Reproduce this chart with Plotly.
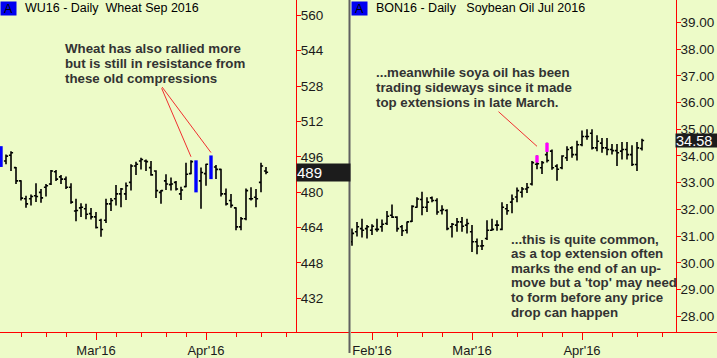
import plotly.graph_objects as go

W, H = 717, 358

# ---------------- Wheat Sep 2016 (WU16) daily bars, index 0 = 2 Feb 2016 ... 53 = 19 Apr 2016
wheat_open = [492.0, 494.1, 496.7, 491.1, 485.1, 477.0, 477.0, 478.4, 479.9, 482.2,
              483.7, 489.2, 486.9, 485.9, 482.2, 471.5, 472.9, 472.5, 470.3, 468.8,
              467.3, 467.3, 474.7, 477.0, 479.2, 479.2, 484.4, 491.8, 494.1, 494.1,
              491.1, 489.6, 479.9, 485.1, 483.4, 484.4, 479.2, 482.5, 488.4, 482.0,
              485.1, 488.4, 487.0, 491.4, 490.3, 479.2, 476.2, 472.9, 464.3, 468.0,
              477.0, 477.7, 484.4, 489.6]
wheat_high = [500.8, 497.0, 498.5, 491.4, 485.4, 478.4, 478.9, 484.0, 481.4, 483.7,
              490.0, 490.0, 487.8, 487.1, 484.0, 477.0, 475.0, 474.7, 472.8, 471.0,
              468.0, 477.0, 477.3, 483.2, 481.9, 484.4, 492.6, 493.8, 495.6, 494.8,
              494.1, 489.9, 481.0, 488.1, 486.6, 485.1, 482.5, 493.3, 494.4, 494.4,
              491.1, 492.9, 496.6, 492.3, 490.6, 481.7, 479.2, 473.2, 468.8, 481.7,
              482.2, 481.4, 493.3, 491.4]
wheat_low = [491.4, 492.6, 489.6, 483.7, 476.2, 472.9, 474.0, 475.5, 475.2, 478.0,
             483.2, 485.1, 483.7, 481.4, 474.7, 466.8, 468.8, 467.7, 467.6, 463.6,
             459.8, 466.1, 471.5, 474.0, 473.2, 476.5, 480.7, 487.8, 490.3, 489.6,
             487.4, 477.4, 474.7, 481.0, 480.7, 480.7, 476.5, 482.2, 488.1, 479.9,
             472.5, 482.9, 485.9, 485.9, 478.0, 474.0, 472.9, 462.8, 462.8, 467.3,
             476.2, 473.2, 480.0, 488.1]
wheat_close = [500.0, 496.3, 497.8, 485.1, 477.3, 474.7, 478.0, 478.0, 477.4, 482.9,
               489.6, 485.9, 485.9, 482.2, 475.5, 471.7, 473.2, 470.0, 468.8, 464.0,
               463.1, 474.7, 476.2, 479.2, 481.4, 482.9, 491.8, 492.6, 494.8, 493.8,
               487.8, 480.7, 480.7, 483.7, 483.7, 481.4, 481.0, 488.1, 493.8, 492.0,
               488.9, 492.6, 494.0, 490.3, 479.2, 474.7, 474.0, 464.3, 468.0, 480.7,
               477.0, 477.0, 491.8, 489.0]
wheat_blue_bars = [0, 39, 42]
wheat_major_ticks = [19, 41]
wheat_major_labels = ["Mar'16", "Apr'16"]
wheat_minor_ticks = [4, 9, 13, 23, 28, 33, 37, 47, 52, 57]
wheat_yticks = [432, 448, 464, 480, 496, 512, 528, 544, 560]

# ---------------- Soybean Oil Jul 2016 (BON16) daily bars, index 0 = 26 Jan 2016 ... 58 = 19 Apr 2016
soy_open = [30.79, 31.16, 31.28, 31.28, 31.22, 31.25, 31.35, 31.47, 31.78, 31.71,
            31.35, 31.22, 31.55, 32.08, 32.37, 32.08, 32.43, 32.33, 31.96, 31.96,
            31.35, 31.41, 31.53, 31.41, 31.16, 30.79, 30.63, 30.91, 31.22, 31.41,
            31.25, 32.02, 32.27, 32.46, 32.64, 32.76, 32.95, 33.69, 33.56, 34.05,
            34.18, 33.62, 33.56, 33.93, 34.30, 34.05, 34.42, 34.73, 34.85, 34.30,
            34.48, 34.30, 34.24, 34.20, 34.18, 34.24, 34.05, 33.68, 34.28]
soy_high = [31.28, 31.53, 31.65, 31.41, 31.44, 31.65, 31.62, 31.94, 32.18, 31.74,
            31.41, 31.55, 32.15, 32.45, 32.66, 32.45, 32.48, 32.42, 32.15, 32.00,
            31.49, 31.68, 31.71, 31.65, 31.41, 30.91, 30.85, 31.59, 31.65, 31.59,
            32.27, 32.20, 32.56, 32.82, 32.84, 32.99, 33.81, 34.02, 33.81, 34.49,
            34.24, 33.69, 34.03, 34.36, 34.36, 34.57, 34.95, 35.00, 35.00, 34.77,
            34.67, 34.67, 34.45, 34.45, 34.52, 34.52, 34.40, 34.52, 34.64]
soy_low = [30.64, 30.98, 30.95, 30.91, 31.04, 31.16, 31.16, 31.41, 31.68, 31.16,
           31.00, 31.10, 31.53, 32.06, 31.78, 31.90, 32.27, 31.80, 31.81, 31.22,
           30.95, 31.16, 31.16, 31.10, 30.40, 30.32, 30.48, 30.85, 31.20, 31.20,
           31.22, 31.80, 31.85, 32.27, 32.44, 32.61, 32.89, 33.50, 33.32, 33.75,
           33.48, 33.07, 33.50, 33.81, 33.93, 33.83, 34.36, 34.61, 34.24, 34.18,
           34.12, 34.03, 34.05, 33.62, 33.87, 33.87, 33.62, 33.44, 34.20]
soy_close = [31.10, 31.35, 31.22, 31.35, 31.37, 31.25, 31.44, 31.74, 31.71, 31.28,
             31.20, 31.53, 32.11, 32.39, 32.08, 32.27, 32.33, 31.90, 31.99, 31.28,
             31.44, 31.53, 31.37, 31.47, 30.79, 30.63, 30.64, 31.22, 31.25, 31.41,
             32.08, 31.95, 32.39, 32.70, 32.76, 32.82, 33.75, 33.71, 33.75, 33.83,
             33.56, 33.50, 34.00, 34.24, 34.05, 34.42, 34.73, 34.73, 34.30, 34.55,
             34.30, 34.24, 34.20, 34.12, 34.24, 34.05, 33.68, 34.30, 34.58]
soy_ext_bars = [37, 39]          # top-extension bars (magenta)
soy_ext_bottom = [33.75, 34.15]  # lower end of the magenta part
soy_major_ticks = [4, 24, 46]
soy_major_labels = ["Feb'16", "Mar'16", "Apr'16"]
soy_minor_ticks = [9, 14, 18, 28, 33, 38, 42, 52, 57, 62]
soy_yticks = [28, 29, 30, 31, 32, 33, 34, 35, 36, 37, 38, 39]

assert len(wheat_open) == len(wheat_high) == len(wheat_low) == len(wheat_close) == 54
assert len(soy_open) == len(soy_high) == len(soy_low) == len(soy_close) == 59

BG = "#EDFBC8"
RED = "#FF0000"
FONT = "Liberation Sans, Arial, sans-serif"
TXT = "#333333"


def px_x(p):
    return p / W


def px_y(p):
    return 1 - p / H


fig = go.Figure()


def add_bars(o, h, l, c, skip, xa, ya):
    idx = [i for i in range(len(o)) if i not in skip]
    bar_line = dict(color="black", width=1.6)
    fig.add_trace(go.Ohlc(
        x=idx, open=[o[i] for i in idx], high=[h[i] for i in idx],
        low=[l[i] for i in idx], close=[c[i] for i in idx],
        increasing=dict(line=bar_line), decreasing=dict(line=bar_line),
        tickwidth=0.42, xaxis=xa, yaxis=ya, showlegend=False, hoverinfo="skip"))


def add_segments(idx, tops, bottoms, color, xa, ya):
    xs, ys = [], []
    for i, t, b in zip(idx, tops, bottoms):
        xs += [i, i, None]
        ys += [b, t, None]
    fig.add_trace(go.Scatter(x=xs, y=ys, mode="lines",
                             line=dict(color=color, width=3.4),
                             xaxis=xa, yaxis=ya, showlegend=False, hoverinfo="skip"))


# wheat panel
add_bars(wheat_open, wheat_high, wheat_low, wheat_close, wheat_blue_bars, "x", "y")
add_segments(wheat_blue_bars, [wheat_high[i] for i in wheat_blue_bars],
             [wheat_low[i] for i in wheat_blue_bars], "#0000FF", "x", "y")
# soybean oil panel
add_bars(soy_open, soy_high, soy_low, soy_close, [], "x2", "y2")
add_segments(soy_ext_bars, [soy_high[i] for i in soy_ext_bars], soy_ext_bottom,
             "#FF00FF", "x2", "y2")

ydom = [21.5 / H, 1]
left_end, right_start = 350, 351
wheat_axis_px, soy_axis_px = 296, 675.7

tickfont = dict(family=FONT, size=13.5, color="#1a1a1a")
xtickfont = dict(family=FONT, size=13, color="#1a1a1a")


def xaxis_cfg(domain, rng, major, labels, minor, anchor):
    return dict(domain=domain, range=rng, anchor=anchor, showline=True, linecolor=RED,
                linewidth=1, ticks="outside", ticklen=7, tickcolor=RED, tickwidth=1,
                tickmode="array", tickvals=major, ticktext=labels, tickfont=xtickfont,
                minor=dict(tickmode="array", tickvals=minor, ticks="outside", ticklen=4,
                           tickcolor=RED, tickwidth=1, showgrid=False),
                showgrid=False, zeroline=False, fixedrange=True,
                rangeslider=dict(visible=False))


def yaxis_cfg(rng, pos, ticks, fmt):
    return dict(domain=ydom, range=rng, anchor="free", position=pos, side="right",
                showline=True, linecolor=RED, linewidth=1, ticks="outside", ticklen=4,
                tickcolor=RED, tickmode="array", tickvals=ticks,
                ticktext=[format(t, fmt) for t in ticks], tickfont=tickfont,
                ticklabelstandoff=-3,
                showgrid=False, zeroline=False, fixedrange=True)


fig.update_layout(
    width=W, height=H, autosize=False,
    margin=dict(l=0, r=0, t=0, b=0, pad=0),
    paper_bgcolor=BG, plot_bgcolor=BG,
    font=dict(family=FONT, color=TXT),
    xaxis=xaxis_cfg([0, px_x(left_end)], [-0.2, (left_end - 1) / 5],
                    wheat_major_ticks, wheat_major_labels, wheat_minor_ticks, "y"),
    yaxis=yaxis_cfg([416.83, 566.92], px_x(wheat_axis_px), wheat_yticks, ".0f"),
    xaxis2=xaxis_cfg([px_x(right_start), 1], [-0.2, (W - 352) / 5],
                     soy_major_ticks, soy_major_labels, soy_minor_ticks, "y2"),
    yaxis2=yaxis_cfg([27.416, 39.838], px_x(soy_axis_px), soy_yticks, ".2f"),
)

# separator between the two panels
fig.add_shape(type="line", xref="paper", yref="paper", x0=px_x(349.5), x1=px_x(349.5),
              y0=0, y1=1, line=dict(color="#606060", width=2))

ann = []

# panel titles
for xb, xt, title in [(0, 22.5, "WU16 - Daily\u00a0\u00a0Wheat Sep 2016"),
                      (351, 374.3, "BON16 - Daily\u00a0\u00a0\u00a0Soybean Oil Jul 2016")]:
    ann.append(dict(xref="paper", yref="paper", x=px_x(xb), y=px_y(1.5), xanchor="left",
                    yanchor="top", text="A", showarrow=False, bgcolor="#0000F0",
                    width=15, height=13, borderpad=0,
                    font=dict(family=FONT, size=12.5, color="black")))
    ann.append(dict(xref="paper", yref="paper", x=px_x(xt), y=px_y(8.5), xanchor="left",
                    yanchor="middle", text=title, showarrow=False,
                    font=dict(family=FONT, size=12.5, color="black")))

# commentary texts
bold = dict(family=FONT, size=13.3, color=TXT)
texts = [
    (63, [49.5, 64.5, 80], ["Wheat has also rallied more",
                            "but is still in resistance from",
                            "these old compressions"]),
    (374.3, [74, 89, 104], ["...meanwhile soya oil has been",
                            "trading sideways since it made",
                            "top extensions in late March."]),
    (509.3, [242.5, 257.3, 272, 287, 302, 316.8], ["...this is quite common,",
                                                    "as a top extension often",
                                                    "marks the end of an up-",
                                                    "move but a 'top' may need",
                                                    "to form before any price",
                                                    "drop can happen"]),
]
for x0, ys, lines in texts:
    for yy, line in zip(ys, lines):
        ann.append(dict(xref="paper", yref="paper", x=px_x(x0), y=px_y(yy), xanchor="left",
                        yanchor="middle", text="<b>" + line + "</b>", showarrow=False,
                        font=bold))

# pointer lines
arrow = dict(text="", showarrow=True, arrowhead=0, arrowwidth=1, arrowcolor="#F03030",
             standoff=0, startstandoff=0)
ann.append(dict(xref="x", yref="y", x=38, y=wheat_high[38] + 1.6, ax=-30, ay=-70, **arrow))
ann.append(dict(xref="x", yref="y", x=42, y=wheat_high[42] + 1.3, ax=-50, ay=-67, **arrow))
ann.append(dict(xref="x2", yref="y2", x=37, y=soy_high[37] + 0.34, ax=-40, ay=-36, **arrow))

# last-price labels
ann.append(dict(xref="paper", yref="y", x=px_x(wheat_axis_px), y=wheat_close[-1],
                xanchor="left", yanchor="middle", text=f"{wheat_close[-1]:.0f}",
                showarrow=False, bgcolor="#1c1c1c", width=53, height=17, borderpad=0,
                align="left", font=dict(family=FONT, size=15, color="white")))
ann.append(dict(xref="paper", yref="y2", x=px_x(soy_axis_px - 0.7), y=soy_close[-1],
                xanchor="left", yanchor="middle", text=f"{soy_close[-1]:.2f}",
                showarrow=False, bgcolor="#1c1c1c", width=42, height=13, borderpad=0,
                align="left", font=dict(family=FONT, size=14.5, color="white")))

fig.update_layout(annotations=ann)
fig.write_html("out.html",
               config=dict(displayModeBar=False, staticPlot=True),
               post_script="document.body.style.margin='0px';"
                           "document.body.style.overflow='hidden';")
